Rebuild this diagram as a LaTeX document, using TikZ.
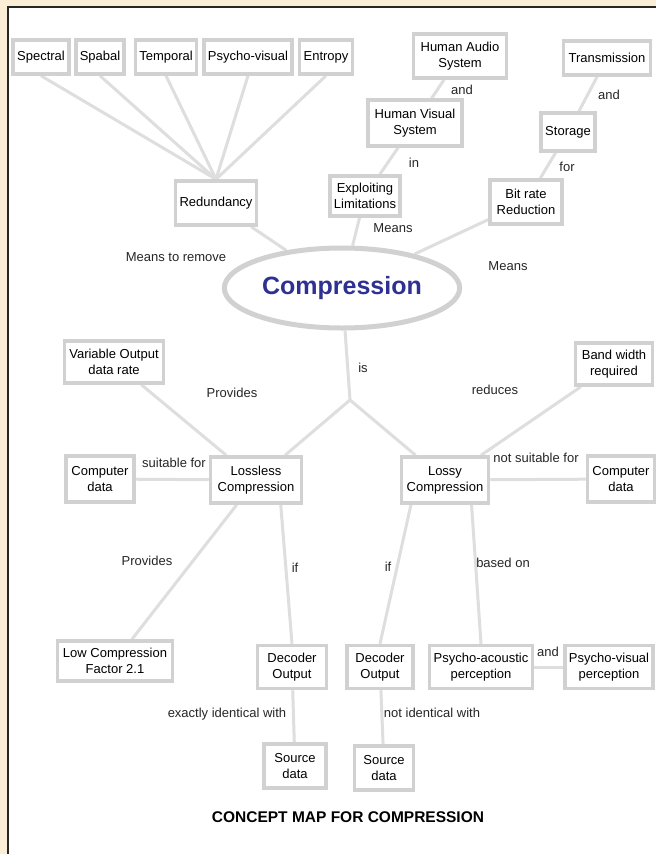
\documentclass[tikz,border=0pt]{standalone}
\usepackage{fontspec}
\setmainfont{Liberation Sans}
\usetikzlibrary{shapes.geometric,backgrounds}

\definecolor{cream}{RGB}{251,238,215}
\definecolor{framegray}{RGB}{40,38,36}
\definecolor{compblue}{RGB}{46,49,146}

\begin{document}
\begin{tikzpicture}[x=1pt,y=-1pt,
  concept/.style={draw=black!18, line width=3.5pt, fill=white, align=center,
    inner xsep=4pt, inner ysep=6pt, minimum height=34pt,
    font=\fontsize{13}{16}\selectfont},
  link/.style={draw=black!13, line width=3pt},
  linklabel/.style={font=\fontsize{13}{16}\selectfont, text=black!85, inner sep=1pt}]

\useasboundingbox (0,0) rectangle (656,854);

% top row
\node[concept] (spectral) at (41,57) {Spectral};
\node[concept] (spabal) at (100,57) {Spabal};
\node[concept] (temporal) at (166,57) {Temporal};
\node[concept] (psychovis) at (248,57) {Psycho-visual};
\node[concept] (entropy) at (326,57) {Entropy};
\node[concept, minimum width=93pt, minimum height=44pt] (has) at (460,56) {Human Audio\\System};
\node[concept, minimum width=87pt] (transmission) at (607,58) {Transmission};

\node[concept, minimum width=94pt, minimum height=46pt] (hvs) at (415,123) {Human Visual\\System};
\node[concept, minimum height=38pt] (storage) at (568,132) {Storage};
\node[concept, minimum height=40pt] (exploit) at (365,196) {Exploiting\\Limitations};
\node[concept, minimum width=72pt, minimum height=44pt] (bitrate) at (526,202) {Bit rate\\Reduction};
\node[concept, minimum width=80pt, minimum height=44pt] (redundancy) at (216,203) {Redundancy};

% centre
\node[draw=black!18, line width=5pt, fill=white, ellipse, minimum width=190pt, minimum height=80pt,
  text=compblue, font=\bfseries\fontsize{25}{30}\selectfont] (compression) at (342,288) {Compression};

% middle
\node[concept, minimum width=99pt, minimum height=42pt] (varout) at (114,362) {Variable Output\\data rate};
\node[concept, minimum width=77pt, minimum height=42pt] (bandwidth) at (614,364) {Band width\\required};
\node[concept, minimum width=68pt, minimum height=46pt] (compleft) at (100,479) {Computer\\data};
\node[concept, minimum width=91pt, minimum height=46pt] (lossless) at (256,480) {Lossless\\Compression};
\node[concept, minimum width=87pt, minimum height=46pt] (lossy) at (445,480) {Lossy\\Compression};
\node[concept, minimum width=67pt, minimum height=46pt] (compright) at (621,479) {Computer\\data};

% bottom
\node[concept, minimum width=115pt, minimum height=40pt] (lowcomp) at (115,661) {Low Compression\\Factor 2.1};
\node[concept, minimum width=69pt, minimum height=43pt] (decleft) at (292,667) {Decoder\\Output};
\node[concept, minimum width=66pt, minimum height=43pt] (decright) at (380,667) {Decoder\\Output};
\node[concept, minimum width=101pt, minimum height=43pt] (psyacou) at (481,667) {Psycho-acoustic\\perception};
\node[concept, minimum width=85pt, minimum height=43pt] (psyvis) at (609,667) {Psycho-visual\\perception};
\node[concept, minimum width=62pt, minimum height=44pt] (srcleft) at (295,766) {Source\\data};
\node[concept, minimum width=59pt, minimum height=44pt] (srcright) at (384,768) {Source\\data};

\coordinate (isfork) at (350,400);

% labels
\node[linklabel] (andhas) at (462,90) {and};
\node[linklabel] (andtrans) at (609,95) {and};
\node[linklabel] (inhvs) at (414,163) {in};
\node[linklabel] (forstor) at (567,167) {for};
\node[linklabel] (meansexp) at (393,228) {Means};
\node[linklabel] (meansrem) at (176,257) {Means to remove};
\node[linklabel] (meansbit) at (508,266) {Means};
\node[linklabel] (iscomp) at (363,368) {is};
\node[linklabel] (provvar) at (232,393) {Provides};
\node[linklabel] (reduces) at (495,390) {reduces};
\node[linklabel] (suitable) at (174,463) {suitable for};
\node[linklabel] (notsuitable) at (536,458) {not suitable for};
\node[linklabel] (provlow) at (147,561) {Provides};
\node[linklabel] (ifleft) at (295,568) {if};
\node[linklabel] (ifright) at (388,567) {if};
\node[linklabel] (basedon) at (503,563) {based on};
\node[linklabel] (andpsy) at (548,652) {and};
\node[linklabel] (exactly) at (227,714) {exactly identical with};
\node[linklabel] (notident) at (432,713) {not identical with};

\node[font=\bfseries\fontsize{15.5}{18}\selectfont] (caption) at (348,817) {CONCEPT MAP FOR COMPRESSION};

\begin{scope}[on background layer]
% frame
\fill[cream] (0,0) rectangle (656,854);
\fill[white] (8,7) rectangle (656,854);
\draw[framegray, line width=2.5pt] (8,854) -- (8,7) -- (656,7);

% connectors
\draw[link] (spectral.south) -- (redundancy.north);
\draw[link] (spabal.south) -- (redundancy.north);
\draw[link] (temporal.south) -- (redundancy.north);
\draw[link] (psychovis.south) -- (redundancy.north);
\draw[link] (entropy.south) -- (redundancy.north);
\draw[link] (has) -- (hvs);
\draw[link] (hvs) -- (exploit);
\draw[link] (exploit) -- (compression);
\draw[link] (transmission) -- (storage);
\draw[link] (storage) -- (bitrate);
\draw[link] (bitrate) -- (compression);
\draw[link] (redundancy) -- (compression);
\draw[link] (compression) -- (isfork);
\draw[link] (isfork) -- (lossless);
\draw[link] (isfork) -- (lossy);
\draw[link] (varout) -- (lossless);
\draw[link] (bandwidth) -- (lossy);
\draw[link] (compleft) -- (lossless);
\draw[link] (lossy) -- (compright);
\draw[link] (lossless) -- (lowcomp);
\draw[link] (lossless.315) -- (decleft.north);
\draw[link] (lossy.216) -- (decright.north);
\draw[link] (lossy.317) -- (psyacou.north);
\draw[link] (psyacou) -- (psyvis);
\draw[link] (decleft) -- (srcleft);
\draw[link] (decright) -- (srcright);
\end{scope}

\end{tikzpicture}
\end{document}
